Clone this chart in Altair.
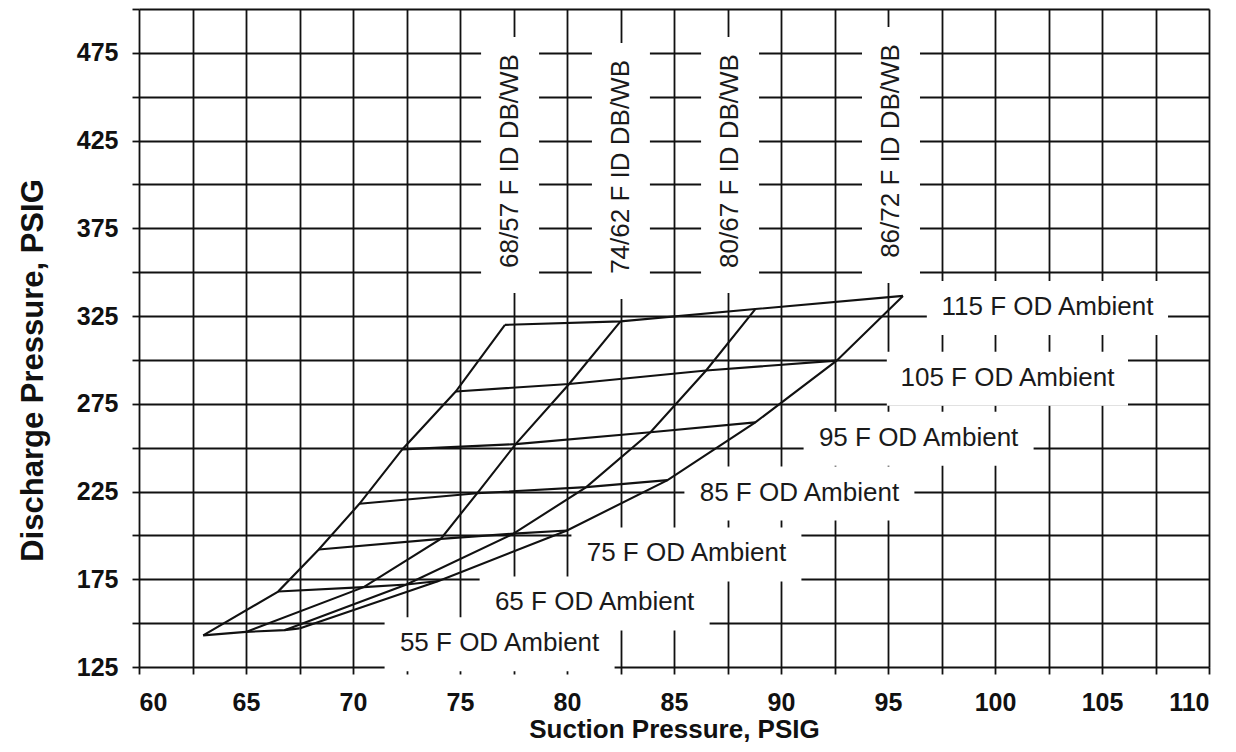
import altair as alt
import pandas as pd

# ---------------- data ----------------
ambients = [55, 65, 75, 85, 95, 105, 115]
indoor = ["68/57", "74/62", "80/67", "86/72"]

suction_6857 = [63.0, 66.5, 68.4, 70.3, 72.3, 74.8, 77.1]
suction_7462 = [65.0, 70.5, 74.1, 75.8, 77.6, 80.1, 82.5]
suction_8067 = [66.8, 72.5, 77.5, 80.9, 83.9, 86.5, 88.8]
suction_8672 = [67.5, 74.0, 80.0, 84.7, 88.8, 92.6, 95.7]

discharge_6857 = [143, 168, 192, 218, 249, 282, 320]
discharge_7462 = [145, 170.5, 198, 224, 252, 286.3, 322]
discharge_8067 = [146, 172, 201, 227.5, 258.8, 294, 329]
discharge_8672 = [147, 174, 202.8, 231.5, 264.4, 299.6, 336.5]

suction = [suction_6857, suction_7462, suction_8067, suction_8672]
discharge = [discharge_6857, discharge_7462, discharge_8067, discharge_8672]

x_ticks = [60 + 2.5 * i for i in range(21)]
y_ticks = [125 + 25 * i for i in range(16)]

# indoor-condition labels (vertical)
id_text = ["68/57 F ID DB/WB", "74/62 F ID DB/WB", "80/67 F ID DB/WB", "86/72 F ID DB/WB"]
id_lx = [77.34, 82.52, 87.62, 95.14]
id_ly = [413.4, 410.0, 413.4, 419.1]

# outdoor ambient labels (horizontal)
od_text = ["55 F OD Ambient", "65 F OD Ambient", "75 F OD Ambient", "85 F OD Ambient",
           "95 F OD Ambient", "105 F OD Ambient", "115 F OD Ambient"]
od_lx = [76.85, 81.29, 85.58, 90.86, 96.43, 100.58, 102.45]
od_ly = [138.5, 161.8, 189.7, 224.4, 255.7, 289.9, 330.2]

# ---------------- build tables ----------------
rows = []
for i, name in enumerate(indoor):
    for j, amb in enumerate(ambients):
        rows.append({"id": name, "idx": i, "amb": amb,
                     "x": suction[i][j], "y": discharge[i][j]})
mesh = pd.DataFrame(rows)

FONT = "Liberation Sans"
INK = "#111"

xscale = alt.Scale(domain=[60, 110], nice=False, zero=False)
yscale = alt.Scale(domain=[125, 500], nice=False, zero=False)

xaxis = alt.Axis(values=x_ticks, labelExpr="datum.value % 5 == 0 ? datum.label : ''",
                 title="Suction Pressure, PSIG", grid=True, gridColor=INK, gridWidth=1.8,
                 gridOpacity=1, domain=False, tickColor=INK, tickWidth=1.8, tickSize=7,
                 labelFont=FONT, labelFontSize=25, labelFontWeight="bold", labelColor=INK,
                 labelPadding=16, titleFont=FONT, titleFontSize=26, titleFontWeight="bold",
                 titleColor=INK, titleBaseline="alphabetic", titleY=70)
yaxis = alt.Axis(values=y_ticks,
                 labelExpr="((datum.value - 125) % 50 == 0 && datum.value < 500) ? datum.label : ''",
                 title="Discharge Pressure, PSIG", grid=True, gridColor=INK, gridWidth=1.8,
                 gridOpacity=1, domain=False, tickColor=INK, tickWidth=1.8, tickSize=7,
                 labelFont=FONT, labelFontSize=25, labelFontWeight="bold", labelColor=INK,
                 labelPadding=14, titleFont=FONT, titleFontSize=31, titleFontWeight="bold",
                 titleColor=INK, titleBaseline="alphabetic", titleX=-97, titleY=361)

X = alt.X("x:Q", scale=xscale, axis=xaxis)
Y = alt.Y("y:Q", scale=yscale, axis=yaxis)

base = alt.Chart(mesh)

layers = []

# white boxes behind labels (they interrupt the grid lines)
for t, lx, ly in zip(id_text, id_lx, id_ly):
    d = pd.DataFrame({"x": [lx], "y": [ly]})
    layers.append(alt.Chart(d).mark_rect(color="white", xOffset=-29, x2Offset=29,
                                         yOffset=-124, y2Offset=132).encode(
        x=X, x2="x", y=Y, y2="y"))
for t, lx, ly in zip(od_text, od_lx, od_ly):
    w = 11.2 * len(t) + 62
    d = pd.DataFrame({"x": [lx], "y": [ly]})
    layers.append(alt.Chart(d).mark_rect(color="white", xOffset=-w / 2, x2Offset=w / 2,
                                         yOffset=-26, y2Offset=28).encode(
        x=X, x2="x", y=Y, y2="y"))

id_df = pd.DataFrame({"t": id_text, "x": id_lx, "y": id_ly})
od_df = pd.DataFrame({"t": od_text, "x": od_lx, "y": od_ly})

layers.append(alt.Chart(id_df).mark_text(font=FONT, fontSize=26, color="#1a1a1a", angle=270,
                                         align="center", baseline="middle").encode(
    x=X, y=Y, text="t:N"))
layers.append(alt.Chart(od_df).mark_text(font=FONT, fontSize=26, color="#1a1a1a",
                                         align="center", baseline="middle").encode(
    x=X, y=Y, text="t:N"))

# indoor-condition curves
layers.append(base.mark_line(color=INK, strokeWidth=2.1).encode(
    x=X, y=Y, detail="id:N", order="amb:Q"))
# outdoor ambient curves
layers.append(base.mark_line(color=INK, strokeWidth=2.1).encode(
    x=X, y=Y, detail="amb:N", order="idx:Q"))

chart = alt.layer(*layers).properties(
    width=1070, height=658,
    autosize=alt.AutoSizeParams(type="none"),
    padding={"left": 131, "top": 1, "right": 15, "bottom": 76},
).configure_view(stroke=None).configure(background="white")

chart.save("out.html", embed_options={"renderer": "svg", "actions": False})
